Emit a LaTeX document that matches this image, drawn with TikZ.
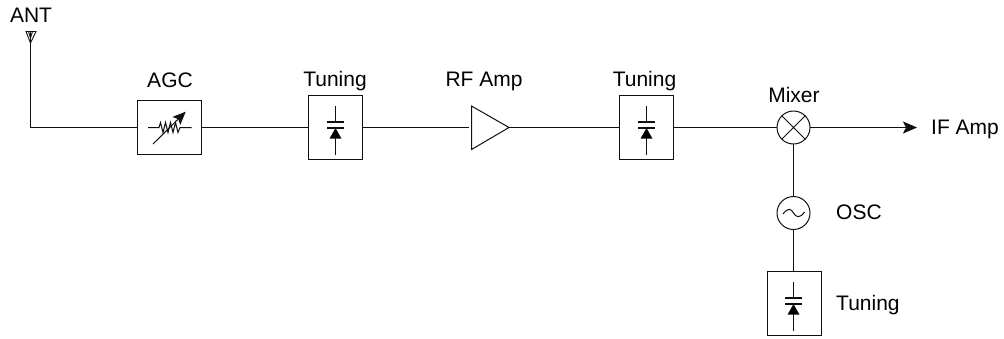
\documentclass[tikz,border=0pt]{standalone}
\usepackage{fontspec}
\setmainfont{Liberation Sans}
\usetikzlibrary{arrows.meta,shapes.geometric}
\definecolor{ink}{RGB}{15,15,15}
\tikzset{
  x=1pt,y=-1pt,
  wire/.style={draw=ink,line width=1pt},
  lab/.style={draw=none,text=black,font=\fontsize{21}{24}\selectfont,inner sep=0pt,anchor=base},
  labl/.style={lab,anchor=base west},
  tunebox/.style={draw=ink,line width=1pt,rectangle,minimum width=54pt,minimum height=64pt,inner sep=0pt,outer sep=0pt},
  agcbox/.style={draw=ink,line width=1pt,rectangle,minimum width=64pt,minimum height=54pt,inner sep=0pt,outer sep=0pt},
  ringnode/.style={draw=ink,line width=1pt,circle,minimum size=33pt,inner sep=0pt,outer sep=0pt},
  vardiode/.pic={
    \draw[wire] (0,-21) -- (0,-5);
    \draw[wire,line width=2pt] (-8.5,-5) -- (8.5,-5);
    \draw[wire,line width=2pt] (-8.5,1) -- (8.5,1);
    \fill[black] (0,1) -- (-6,11.7) -- (6,11.7) -- cycle;
    \draw[wire] (0,11) -- (0,27.5);
  }
}
\begin{document}
\begin{tikzpicture}
\useasboundingbox (0,0) rectangle (1004,338);
% labels
\node[lab] (antlab) at (31,22.5) {ANT};
\node[lab] (agclab) at (170,87) {AGC};
\node[lab] (t1lab) at (335,86.7) {Tuning};
\node[lab] (rflab) at (484,86.7) {RF Amp};
\node[lab] (t2lab) at (644.5,86.7) {Tuning};
\node[lab] (mixlab) at (794,102.7) {Mixer};
\node[labl] (iflab) at (931,134.5) {IF Amp};
\node[labl] (osclab) at (836,219) {OSC};
\node[labl] (t3lab) at (836,310.5) {Tuning};
% blocks
\node[agcbox] (agc) at (169.5,127.5) {};
\node[tunebox] (t1) at (335.5,127.5) {};
\node[tunebox] (t2) at (646.5,127.5) {};
\node[tunebox] (t3) at (794.5,303.5) {};
\node[ringnode] (mix) at (793.5,127.5) {};
\node[ringnode] (osc) at (793.5,213) {};
\node[inner sep=0pt,minimum size=0pt] (amp) at (471.5,127.5) {};
\draw[wire] (amp.center) -- (471.5,106) -- (509,127.5) -- (471.5,149.5) -- cycle;
\coordinate (ampin) at (469,127.5);
\coordinate (ampout) at (509,127.5);
\coordinate (anttop) at (30.5,31.5);
\coordinate (corner) at (30.5,127.5);
\coordinate (ifend) at (917,127.5);
% antenna
\draw[wire,line width=.9pt] (26,31.5) -- (36,31.5) -- (30.5,43) -- cycle;
\draw[wire,line width=.9pt] (28.5,31.5) -- (30.5,38) -- (32.5,31.5);
% connectors
\draw[wire,line join=miter] (anttop) -- (corner) -- (agc.west);
\draw[wire] (agc.east) -- (t1.west);
\draw[wire] (t1.east) -- (ampin);
\draw[wire] (ampout) -- (t2.west);
\draw[wire] (t2.east) -- (mix.west);
\draw[wire,-{Stealth[length=14pt,width=12pt,inset=3pt]}] (mix.east) -- (ifend);
\draw[wire] (mix.south) -- (osc.north);
\draw[wire] (osc.south) -- (osc.south |- t3.north);
% mixer cross
\draw[wire] (mix.45) -- (mix.225) (mix.135) -- (mix.315);
% osc tilde
\draw[wire] (783,214) .. controls (788,207.5) and (791,208.5) .. (793.5,213) .. controls (796,217.5) and (800,218.5) .. (804.5,212);
% variable resistor
\draw[wire] (148,127.5) -- (159,127.5) -- (160.5,122.5) -- (163,132.5) -- (165.5,122.5) -- (168,132.5) -- (170.5,122.5) -- (173,132.5) -- (175.5,122.5) -- (178,132.5) -- (180,127.5) -- (191.5,127.5);
\draw[wire,-{Stealth[length=13pt,width=11pt,inset=2.5pt]}] (153,144) -- (185.7,111.7);
% tuning symbols
\pic at (335.5,127) {vardiode};
\pic at (646.5,127) {vardiode};
\pic at (793.5,303) {vardiode};
\end{tikzpicture}
\end{document}
